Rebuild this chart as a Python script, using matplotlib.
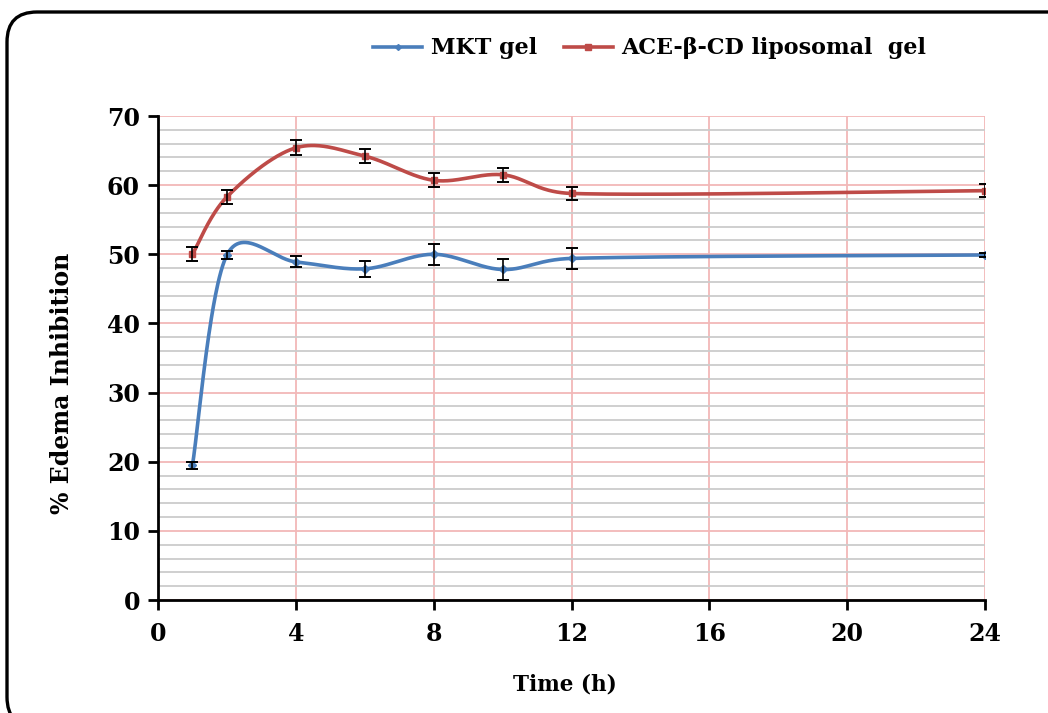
import numpy as np
import matplotlib
matplotlib.use("Agg")
import matplotlib.pyplot as plt
from matplotlib.patches import FancyBboxPatch
from matplotlib.transforms import IdentityTransform
from matplotlib.lines import Line2D

# ---- data ----
time_h = [1, 2, 4, 6, 8, 10, 12, 24]
mkt_gel = [19.5, 49.9, 48.9, 47.9, 50.0, 47.8, 49.4, 49.9]
mkt_err = [0.5, 0.6, 0.8, 1.2, 1.5, 1.5, 1.5, 0.3]
ace_gel = [50.0, 58.3, 65.4, 64.2, 60.7, 61.5, 58.8, 59.2]
ace_err = [1.0, 1.0, 1.1, 1.0, 1.0, 1.0, 1.0, 0.9]
x_ticks = [0, 4, 8, 12, 16, 20, 24]
y_ticks = [0, 10, 20, 30, 40, 50, 60, 70]
labels = ["MKT gel", "ACE-β-CD liposomal  gel"]

BLUE = "#4a7ebb"
RED = "#be4b48"
FONT = "DejaVu Serif"


def smooth(ax, xs, ys, n=60, cap=0.5):
    """Excel-like smoothed line: cubic Bezier with Catmull-Rom tangents (1/6),
    each control arm capped to a fraction of its segment length (display space)."""
    tr = ax.transData
    P = tr.transform(np.column_stack([xs, ys]).astype(float))
    m = len(P)
    out = []

    def arm(v, seglen):
        L = np.linalg.norm(v)
        lim = cap * seglen
        return v * (lim / L) if L > lim and L > 0 else v

    for i in range(m - 1):
        p0 = P[i - 1] if i > 0 else P[i]
        p1 = P[i]
        p2 = P[i + 1]
        p3 = P[i + 2] if i + 2 < m else P[i + 1]
        d12 = np.linalg.norm(p2 - p1)
        c1 = p1 + arm((p2 - p0) / 6.0, d12)
        c2 = p2 - arm((p3 - p1) / 6.0, d12)
        t = np.linspace(0, 1, n)[:, None]
        seg = ((1 - t) ** 3) * p1 + 3 * ((1 - t) ** 2) * t * c1 + 3 * (1 - t) * t ** 2 * c2 + t ** 3 * p2
        out.append(seg if i == 0 else seg[1:])
    s = tr.inverted().transform(np.vstack(out))
    return s[:, 0], s[:, 1]


fig = plt.figure(figsize=(10.48, 7.13), dpi=100)
ax = fig.add_axes([158 / 1048, 1 - 600 / 713, (985 - 158) / 1048, (600 - 116) / 713])

ax.set_xlim(0, 24)
ax.set_ylim(0, 70)

# grid
ax.set_yticks(np.arange(0, 71, 2), minor=True)
ax.grid(which="minor", axis="y", color="#cccccc", linewidth=1.3, zorder=0)
ax.grid(which="major", axis="y", color="#f2b8b8", linewidth=1.3, zorder=0.5)
ax.grid(which="major", axis="x", color="#f2b8b8", linewidth=1.3, zorder=0.5)

for xs, ys, es, col, mk, ms in [
    (time_h, mkt_gel, mkt_err, BLUE, "D", 4),
    (time_h, ace_gel, ace_err, RED, "s", 5),
]:
    sx, sy = smooth(ax, xs, ys)
    ax.plot(sx, sy, color=col, linewidth=2.6, zorder=3, solid_capstyle="round")
    ax.plot(xs, ys, linestyle="none", marker=mk, markersize=ms, color=col, zorder=4)
    ax.errorbar(xs, ys, yerr=es, fmt="none", ecolor="black", elinewidth=1.2,
                capsize=4, capthick=1.4, zorder=5)

ax.set_xticks(x_ticks)
ax.set_yticks(y_ticks)
ax.tick_params(axis="both", which="major", direction="out", length=7, width=2,
               labelsize=17, pad=6)
ax.tick_params(axis="x", which="major", pad=9)
ax.tick_params(axis="y", which="minor", length=0)
for lab in ax.get_xticklabels() + ax.get_yticklabels():
    lab.set_fontfamily(FONT)
    lab.set_fontweight("bold")

for s in ["top", "right"]:
    ax.spines[s].set_visible(False)
for s in ["left", "bottom"]:
    ax.spines[s].set_linewidth(2)
    ax.spines[s].set_color("black")

ax.set_xlabel("Time (h)", fontfamily=FONT, fontweight="bold", fontsize=15.5)
ax.set_ylabel("% Edema Inhibition", fontfamily=FONT, fontweight="bold", fontsize=17)
ax.xaxis.set_label_coords((565 - 158) / 827, (600 - 674) / 484)
ax.yaxis.set_label_coords((74 - 158) / 827, (600 - 383) / 484)

handles = [
    Line2D([], [], color=BLUE, linewidth=2.6, marker="D", markersize=3),
    Line2D([], [], color=RED, linewidth=2.6, marker="s", markersize=4),
]
fig.legend(handles, labels, loc="center", bbox_to_anchor=(0.62, 0.932), ncol=2,
           frameon=False, prop={"family": FONT, "weight": "bold", "size": 16},
           handlelength=2.2, handletextpad=0.4, columnspacing=1.2)

# rounded outer border
border = FancyBboxPatch((7, -14), 1072, 715, boxstyle="round,pad=0,rounding_size=30",
                        transform=IdentityTransform(), fill=False, edgecolor="black",
                        linewidth=2.4, zorder=10)
fig.patches.append(border)

fig.savefig("out.png", dpi=100)
